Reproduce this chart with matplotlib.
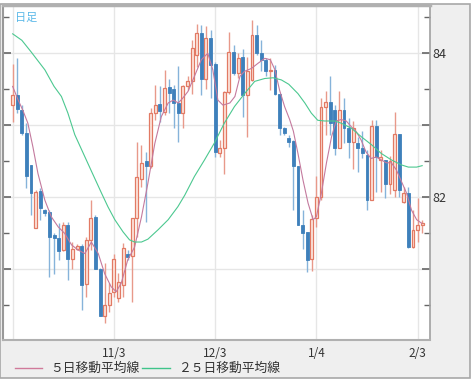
import matplotlib.pyplot as plt
import numpy as np
from matplotlib.patches import Rectangle
from matplotlib.lines import Line2D

plt.rcParams['font.family'] = ['Noto Sans CJK JP', 'DejaVu Sans']

# 日足 OHLC (読み取り値)
opens = [83.28, 83.42, 83.21, 82.90, 82.45, 81.58, 82.09, 81.83, 81.79, 81.48,
         81.43, 81.27, 81.61, 81.15, 81.28, 81.33, 80.80, 81.41, 81.73, 81.01,
         80.35, 80.50, 80.68, 80.60, 80.78, 81.21, 81.18, 81.71, 82.26, 82.50,
         82.43, 83.17, 83.29, 83.19, 83.53, 83.50, 83.31, 83.17, 83.55, 83.61,
         83.98, 84.28, 83.64, 84.21, 83.85, 82.62, 82.68, 83.46, 84.02, 83.72,
         83.95, 83.42, 83.63, 84.25, 84.01, 83.90, 83.75, 83.77, 83.44, 82.96,
         82.83, 82.78, 82.44, 81.62, 81.52, 81.15, 81.71, 82.01, 83.26, 83.33,
         83.21, 82.69, 83.21, 82.96, 82.77, 82.75, 82.69, 82.59, 81.97, 82.99,
         82.52, 82.52, 82.19, 82.10, 82.88, 81.94, 82.06, 81.31, 81.55, 81.62]
highs = [83.85, 83.93, 83.28, 83.03, 82.45, 82.10, 82.13, 81.84, 81.82, 81.50,
         81.64, 81.66, 81.66, 81.38, 81.35, 81.35, 81.45, 81.97, 81.75, 81.02,
         81.09, 80.81, 81.22, 80.95, 81.36, 81.27, 81.71, 82.77, 82.73, 82.63,
         83.24, 83.56, 83.54, 83.77, 83.64, 83.56, 83.82, 83.56, 83.68, 84.18,
         84.41, 84.39, 84.38, 84.32, 83.88, 82.80, 83.47, 84.29, 84.12, 84.00,
         84.06, 83.95, 84.46, 84.39, 84.19, 83.93, 83.93, 83.84, 83.44, 82.98,
         82.87, 82.80, 82.44, 81.82, 81.52, 81.75, 82.29, 83.38, 83.47, 83.68,
         83.28, 83.47, 83.38, 83.10, 83.06, 82.84, 82.92, 82.66, 83.08, 83.08,
         82.66, 82.52, 82.58, 83.18, 82.88, 82.15, 82.15, 81.82, 81.99, 81.69]
lows = [83.05, 83.17, 82.87, 82.13, 81.75, 81.57, 81.69, 81.74, 80.90, 80.94,
        81.13, 81.26, 80.85, 81.01, 81.27, 80.44, 80.62, 81.27, 81.01, 80.35,
        80.25, 80.41, 80.62, 80.55, 80.62, 81.13, 80.55, 81.45, 82.15, 81.66,
        82.41, 83.07, 83.05, 83.14, 83.17, 82.96, 82.77, 82.96, 83.49, 83.44,
        83.81, 83.42, 83.51, 83.38, 82.56, 82.56, 82.33, 83.44, 83.70, 83.65,
        83.12, 82.84, 83.62, 83.98, 83.75, 83.68, 83.49, 83.42, 82.87, 82.87,
        82.70, 81.82, 81.62, 81.29, 80.96, 80.98, 81.59, 81.96, 82.87, 82.87,
        82.59, 82.69, 82.75, 82.54, 82.40, 82.35, 82.55, 81.83, 81.97, 82.08,
        82.08, 81.99, 82.05, 82.01, 82.00, 81.92, 81.30, 81.30, 81.38, 81.50]
closes = [83.42, 83.22, 82.89, 82.29, 82.06, 82.08, 81.85, 81.78, 81.45, 81.43,
          81.25, 81.61, 81.15, 81.28, 81.33, 80.78, 81.41, 81.72, 81.01, 80.35,
          80.50, 80.67, 81.14, 80.82, 81.30, 81.17, 81.71, 82.28, 82.48, 82.43,
          83.17, 83.28, 83.20, 83.52, 83.45, 83.31, 83.17, 83.55, 83.61, 84.08,
          84.28, 83.64, 84.21, 83.84, 82.63, 82.68, 83.46, 84.02, 83.72, 83.93,
          83.42, 83.75, 84.25, 84.01, 83.91, 83.75, 83.77, 83.44, 82.96, 82.90,
          82.77, 82.43, 81.62, 81.51, 81.13, 81.70, 82.01, 83.26, 83.33, 83.03,
          82.69, 83.21, 82.96, 82.77, 82.96, 82.69, 82.61, 81.97, 82.99, 82.56,
          82.56, 82.19, 82.50, 82.88, 82.10, 82.06, 81.31, 81.55, 81.62, 81.64]

# 5日移動平均線 (読み取り値)
ma5_x = [0, 1.2, 2.2, 3.3, 4.4, 5.5, 7, 8.4, 9.9, 11.3, 12.8, 14.2, 15.7, 17.1,
         18.6, 20, 21.4, 22.5, 23.6, 25, 26.5, 28, 29.4, 30.9, 32.3, 33.8, 34.9,
         36, 37, 38.1, 39.5, 41, 42.4, 43.5, 44.6, 45.7, 47.2, 48.3, 49.4, 50.4,
         51.9, 53.3, 54.8, 56, 57, 58, 59.1, 60.2, 61, 62, 63.1, 64.2, 65.3, 66,
         67.1, 68.2, 69.3, 70.3, 71.4, 72.5, 73.6, 74.7, 75.7, 76.8, 77.9, 79,
         80.1, 81.2, 82.3, 83.4, 84.5, 85.6, 86.7, 87.8, 88.9]
ma5_y = [83.54, 83.35, 83.21, 83.03, 82.70, 82.33, 81.96, 81.73, 81.59, 81.50,
         81.34, 81.27, 81.22, 81.38, 81.22, 80.94, 80.76, 80.69, 80.81, 81.13,
         81.31, 81.73, 82.20, 82.75, 83.12, 83.31, 83.35, 83.31, 83.38, 83.47,
         83.68, 83.91, 84.00, 83.77, 83.35, 83.28, 83.31, 83.40, 83.68, 83.75,
         83.79, 83.86, 83.93, 83.91, 83.77, 83.49, 83.26, 83.08, 82.92, 82.61,
         82.24, 81.92, 81.69, 81.73, 82.06, 82.48, 82.84, 83.06, 83.08, 83.06,
         82.98, 82.91, 82.80, 82.63, 82.54, 82.56, 82.52, 82.48, 82.48, 82.38,
         82.22, 82.06, 81.82, 81.69, 81.64]

# 25日移動平均線 (読み取り値)
ma25_x = [0, 2, 4, 7, 9, 10.6, 12, 13.5, 15, 17, 19.3, 20.7, 22.2, 24, 25.4,
          26.5, 28, 29.4, 31.6, 33.8, 35.9, 37.4, 39.5, 41.7, 43.8, 46, 48.2,
          50.4, 52.6, 54.8, 56.6, 58.4, 60, 62, 63.5, 64.9, 66.3, 67.8, 70,
          71.4, 73.6, 75.8, 78, 80.1, 82.3, 84.5, 86, 87.8, 89]
ma25_y = [84.27, 84.18, 84.02, 83.77, 83.54, 83.40, 83.17, 82.87, 82.66, 82.38,
          82.06, 81.87, 81.69, 81.52, 81.41, 81.38, 81.38, 81.42, 81.55, 81.69,
          81.87, 82.03, 82.29, 82.52, 82.75, 83.03, 83.26, 83.44, 83.61, 83.65,
          83.66, 83.63, 83.57, 83.44, 83.31, 83.17, 83.07, 83.06, 83.06, 83.03,
          82.96, 82.84, 82.73, 82.61, 82.52, 82.45, 82.42, 82.42, 82.44]

date_pos = [0, 22, 44, 66, 88]
date_labels = ['', '11/3', '12/3', '1/4', '2/3']

up_edge = '#e27a64'
up_fill = '#fde6de'
up_wick = '#e8998a'
dn_fill = '#3e80bb'
dn_wick = '#86b3da'

fig = plt.figure(figsize=(4.74, 3.88), dpi=100)
fig.patch.set_facecolor('white')
fig.patches.append(Rectangle((0, 10 / 388), 470 / 474, 374 / 388, transform=fig.transFigure,
                             facecolor='#efefef', edgecolor='#a8a8a8', linewidth=1.2, zorder=-1))

ax = fig.add_axes([3 / 474, 48 / 388, 427 / 474, 335 / 388])
ax.set_zorder(1)
ax.set_facecolor('white')

o = np.array(opens)
h = np.array(highs)
l = np.array(lows)
c = np.array(closes)
x = np.arange(len(o))
up = c >= o

ax.vlines(x[up], l[up], h[up], color=up_wick, linewidth=1, zorder=2)
ax.vlines(x[~up], l[~up], h[~up], color=dn_wick, linewidth=1, zorder=2)

body_lo = np.minimum(o, c)
body_h = np.maximum(np.abs(c - o), 0.02)
ax.bar(x[up], body_h[up], bottom=body_lo[up], width=0.62, color=up_fill,
       edgecolor=up_edge, linewidth=0.9, zorder=3)
ax.bar(x[~up], body_h[~up], bottom=body_lo[~up], width=0.62, color=dn_fill,
       edgecolor=dn_fill, linewidth=0.6, zorder=3)

ax.plot(ma5_x, ma5_y, color='#c47a9e', linewidth=0.8, zorder=4)
ax.plot(ma25_x, ma25_y, color='#4cc890', linewidth=0.8, zorder=4)

ax.set_xlim(-2.1, 90.7)
ax.set_ylim(80.02, 84.67)

ax.set_xticks(date_pos)
ax.set_xticklabels(date_labels, fontsize=8.5, color='#333333')
ax.tick_params(axis='x', length=0, pad=5)

ax.yaxis.tick_right()
ax.set_yticks([81, 82, 83, 84])
ax.set_yticklabels(['', '82', '', '84'], fontsize=9, color='#333333')
ax.set_yticks(np.arange(80.5, 84.6, 1.0), minor=True)
ax.tick_params(axis='y', which='both', direction='in', left=True, right=True,
               labelleft=False, labelright=True, color='#666666', pad=2)
ax.tick_params(axis='y', which='major', length=6, width=1.2)
ax.tick_params(axis='y', which='minor', length=4, width=1)

ax.grid(True, which='major', color='#e6e6e6', linewidth=1)
ax.set_axisbelow(True)

ax.spines['top'].set_color('#b0b0b0')
ax.spines['top'].set_linewidth(2.5)
ax.spines['left'].set_color('#999999')
ax.spines['left'].set_linewidth(1.5)
ax.spines['right'].set_color('#a0a0a0')
ax.spines['right'].set_linewidth(1.2)
ax.spines['bottom'].set_color('#b0b0b0')
ax.spines['bottom'].set_linewidth(1.5)

ax.text(0.028, 0.977, '日足', transform=ax.transAxes, fontsize=8,
        color='#5ab8e8', va='top', ha='left')

# 凡例
ly = 20 / 388
fig.add_artist(Line2D([15 / 474, 42 / 474], [ly, ly], color='#d07a9a', linewidth=1))
fig.text(50 / 474, ly, '５日移動平均線', fontsize=9.2, color='#333333', va='center')
fig.add_artist(Line2D([142 / 474, 170 / 474], [ly, ly], color='#3fc48a', linewidth=1))
fig.text(178 / 474, ly, '２５日移動平均線', fontsize=9.2, color='#333333', va='center')

fig.savefig('out.png', dpi=100)
